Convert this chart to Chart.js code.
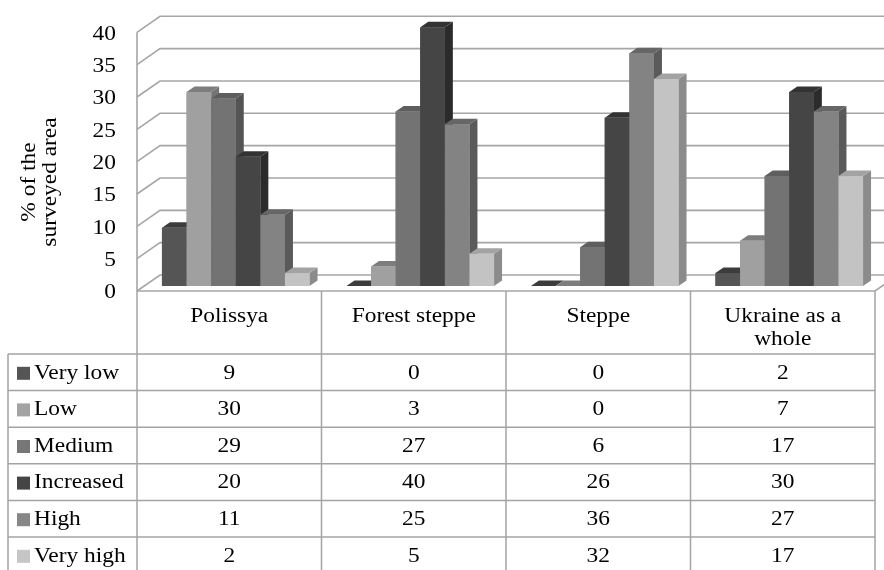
<!DOCTYPE html>
<html>
<head>
<meta charset="utf-8">
<script src="https://cdn.jsdelivr.net/npm/chart.js@4"></script>
<style>
  html, body { margin: 0; padding: 0; background: #fff; }
  canvas { display: block; }
  .preload { font-family: "Liberation Serif"; position: absolute; left: -9999px; top: 0; }
</style>
</head>
<body>
<div class="preload">Polissya 0123456789</div>
<canvas id="c" width="884" height="570"></canvas>
<script>
// data
const categories = [['Polissya'], ['Forest steppe'], ['Steppe'], ['Ukraine as a', 'whole']];
const seriesNames = ['Very low', 'Low', 'Medium', 'Increased', 'High', 'Very high'];
const veryLow   = [9, 0, 0, 2];
const low       = [30, 3, 0, 7];
const medium    = [29, 27, 6, 17];
const increased = [20, 40, 26, 30];
const high      = [11, 25, 36, 27];
const veryHigh  = [2, 5, 32, 17];
const yTicks = [0, 5, 10, 15, 20, 25, 30, 35, 40];
const axisTitle = ['% of the', 'surveyed area'];

// look
const frontCol = ['#555555', '#a0a0a0', '#737373', '#454545', '#838383', '#c3c3c3'];
const topCol   = ['#3c3c3c', '#7d7d7d', '#5e5e5e', '#333333', '#666666', '#a3a3a3'];
const sideCol  = ['#3a3a3a', '#747474', '#545454', '#2b2b2b', '#5a5a5a', '#8b8b8b'];
const keyCol   = ['#555555', '#a3a3a3', '#777777', '#454545', '#878787', '#c6c6c6'];
const FONT = '20px "Liberation Serif", serif';
const SX = 1.17;            // text is drawn a bit wide, like the original
const DX = 8, DY = -5.5;    // bar depth
const WALL_X0 = 137, WALL_X1 = 160; // left wall front / back
const FRONT_OFF = 5, BACK_OFF = -11;
const GRID = '#a6a6a6';
const TABLE_LINE = '#a3a3a3';

const allSeries = [veryLow, low, medium, increased, high, veryHigh];

function txt(ctx, s, x, y, align) {
  ctx.save();
  ctx.translate(x, y);
  ctx.scale(SX, 1);
  ctx.textAlign = align || 'center';
  ctx.fillText(s, 0, 0);
  ctx.restore();
}

function poly(ctx, pts, fill) {
  ctx.beginPath();
  ctx.moveTo(pts[0][0], pts[0][1]);
  for (let i = 1; i < pts.length; i++) ctx.lineTo(pts[i][0], pts[i][1]);
  ctx.closePath();
  ctx.fillStyle = fill;
  ctx.fill();
}

const threeD = {
  id: 'threeD',
  beforeDatasetsDraw(chart) {
    const ctx = chart.ctx, y = chart.scales.y, W = chart.width;
    ctx.save();
    ctx.strokeStyle = GRID;
    ctx.lineWidth = 1.6;
    yTicks.forEach(v => {
      const yb = y.getPixelForValue(v);
      ctx.beginPath();
      ctx.moveTo(WALL_X0, yb + FRONT_OFF);
      ctx.lineTo(WALL_X1, yb + BACK_OFF);
      ctx.lineTo(W, yb + BACK_OFF);
      ctx.stroke();
    });
    // left wall front edge
    const yTop = y.getPixelForValue(yTicks[yTicks.length - 1]) + FRONT_OFF;
    const yFloor = y.getPixelForValue(0) + FRONT_OFF;
    ctx.beginPath();
    ctx.moveTo(WALL_X0, yTop);
    ctx.lineTo(WALL_X0, yFloor);
    ctx.stroke();
    ctx.restore();
  },
  afterDatasetsDraw(chart) {
    const ctx = chart.ctx;
    ctx.save();
    for (let i = 0; i < categories.length; i++) {
      allSeries.forEach((s, d) => {
        const el = chart.getDatasetMeta(d).data[i];
        const l = el.x - el.width / 2, r = el.x + el.width / 2;
        const t = Math.min(el.y, el.base), b = el.base;
        poly(ctx, [[r, t], [r + DX, t + DY], [r + DX, b + DY], [r, b]], sideCol[d]);
        poly(ctx, [[l, t], [l + DX, t + DY], [r + DX, t + DY], [r, t]], topCol[d]);
        ctx.fillStyle = frontCol[d];
        ctx.fillRect(l, t, r - l, b - t);
      });
    }
    ctx.restore();
  },
  afterDraw(chart) {
    const ctx = chart.ctx, y = chart.scales.y;
    const catW = (chart.chartArea.right - chart.chartArea.left) / categories.length;
    const tblL = chart.chartArea.left - 6.5;   // table columns sit a little left of the bar groups
    const tblR = tblL + catW * categories.length;
    const yFloor = y.getPixelForValue(0) + FRONT_OFF;
    const headB = 354, rowH = 36.6;
    ctx.save();
    ctx.fillStyle = '#000';
    ctx.font = FONT;

    // y tick labels
    ctx.textBaseline = 'middle';
    yTicks.forEach(v => txt(ctx, String(v), 116, y.getPixelForValue(v) + 7, 'right'));

    // axis title
    ctx.save();
    ctx.translate(0, 182);
    ctx.rotate(-Math.PI / 2);
    ctx.textBaseline = 'alphabetic';
    axisTitle.forEach((s, k) => txt(ctx, s, 0, 35 + k * 21, 'center'));
    ctx.restore();

    // floor front edge + right slant
    ctx.strokeStyle = GRID;
    ctx.lineWidth = 1.6;
    ctx.beginPath();
    ctx.moveTo(WALL_X0, yFloor);
    ctx.lineTo(tblR, yFloor);
    ctx.lineTo(tblR + (WALL_X1 - WALL_X0), yFloor + (BACK_OFF - FRONT_OFF));
    ctx.stroke();

    // table grid
    ctx.strokeStyle = TABLE_LINE;
    ctx.lineWidth = 1.5;
    const bottom = chart.height + 5;
    for (let i = 0; i <= categories.length; i++) {
      const cx = tblL + i * catW;
      ctx.beginPath(); ctx.moveTo(cx, yFloor); ctx.lineTo(cx, bottom); ctx.stroke();
    }
    ctx.beginPath(); ctx.moveTo(8, headB); ctx.lineTo(8, bottom); ctx.stroke();
    for (let r = 0; r <= seriesNames.length; r++) {
      const ry = headB + r * rowH;
      ctx.beginPath(); ctx.moveTo(8, ry); ctx.lineTo(tblR, ry); ctx.stroke();
    }

    // header labels
    ctx.textBaseline = 'alphabetic';
    categories.forEach((lines, i) => {
      const cx = tblL + (i + 0.5) * catW;
      lines.forEach((s, k) => txt(ctx, s, cx, 322 + k * 23, 'center'));
    });

    // rows
    ctx.textBaseline = 'middle';
    seriesNames.forEach((name, d) => {
      const cy = headB + (d + 0.5) * rowH + 1;
      ctx.fillStyle = keyCol[d];
      ctx.fillRect(17, cy - 6.5, 13, 13);
      ctx.fillStyle = '#000';
      txt(ctx, name, 34, cy, 'left');
      allSeries[d].forEach((v, i) => txt(ctx, String(v), tblL + (i + 0.5) * catW, cy, 'center'));
    });
    ctx.restore();
  }
};

function build() {
  new Chart(document.getElementById('c').getContext('2d'), {
    type: 'bar',
    data: {
      labels: categories,
      datasets: allSeries.map((s, d) => ({
        label: seriesNames[d],
        data: s,
        backgroundColor: frontCol[d],
        borderWidth: 0,
        categoryPercentage: 0.8,
        barPercentage: 1.0,
      })),
    },
    options: {
      responsive: false,
      animation: false,
      devicePixelRatio: 1,
      layout: { padding: { left: 143.5, right: 2.5, top: 27.3, bottom: 284 } },
      plugins: { legend: { display: false }, tooltip: { enabled: false }, title: { display: false } },
      scales: {
        x: { display: false },
        y: { display: false, min: 0, max: 40 },
      },
    },
    plugins: [threeD],
  });
}

document.fonts.load(FONT).then(build, build);
</script>
</body>
</html>
